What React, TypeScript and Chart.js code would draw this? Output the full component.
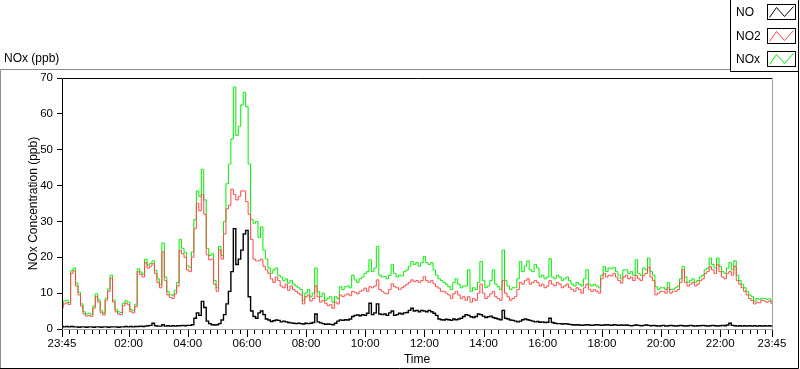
import React, { useEffect, useRef } from 'react';
import { Chart, registerables } from 'chart.js';

Chart.register(...registerables);

// ---- data ----
const START_MINUTE = 23 * 60 + 45; // 23:45
const STEP_MIN = 5; // sampling interval (minutes)
const SPAN_MIN = 1440; // 24 h shown
const MINOR_TICK_MIN = 15;
const MAJOR_TICK_MIN = 120;
const Y_MIN = 0;
const Y_MAX = 70;
const Y_STEP = 10;

const SERIES_NAMES = ['NO', 'NO2', 'NOx'];
const TITLE = 'NOx (ppb)';
const X_TITLE = 'Time';
const Y_TITLE = 'NOx Concentration (ppb)';

const NO = [
  0.7, 0.6, 0.7, 0.6, 0.7, 0.6, 0.6, 0.5, 0.6, 0.6,
  0.5, 0.6, 0.6, 0.5, 0.6, 0.6, 0.5, 0.6, 0.6, 0.5,
  0.6, 0.6, 0.6, 0.5, 0.6, 0.6, 0.7, 0.6, 0.7, 0.6,
  0.7, 0.7, 0.8, 0.7, 0.8, 0.9, 1.0, 1.6, 0.9, 0.8,
  0.8, 1.2, 0.8, 0.9, 0.8, 0.9, 0.8, 0.9, 0.9, 1.0,
  0.9, 1.0, 1.0, 1.2, 3.0, 4.5, 3.8, 7.7, 6.0, 2.2,
  1.5, 1.2, 1.1, 1.2, 1.5, 2.5, 4.0, 7.0, 10.5, 16.0,
  28.0, 18.0, 19.5, 22.0, 26.5, 27.5, 9.0, 5.0, 3.5, 3.0,
  4.5, 5.0, 4.0, 2.8, 2.5, 2.1, 2.3, 2.5, 2.4, 2.0,
  2.2, 2.0, 1.8, 1.7, 1.6, 1.5, 1.6, 1.5, 1.4, 1.6,
  1.5, 1.6, 1.8, 4.2, 2.0, 1.7, 1.5, 1.3, 1.4, 1.3,
  1.2, 1.6, 2.2, 2.5, 2.4, 2.6, 2.5, 2.8, 3.5, 3.8,
  3.9, 3.7, 4.0, 3.8, 4.4, 7.2, 4.0, 4.5, 7.0, 4.2,
  4.0, 4.2, 3.8, 4.5, 5.0, 3.8, 4.0, 4.4, 4.2, 4.5,
  4.6, 5.2, 5.8, 5.0, 5.2, 4.8, 5.2, 5.0, 4.8, 5.2,
  4.8, 4.4, 3.8, 2.8, 2.6, 2.5, 2.7, 2.6, 2.4, 2.8,
  2.6, 2.8, 3.0, 3.5, 4.0, 3.8, 3.4, 3.2, 3.5, 4.2,
  4.0, 3.6, 3.2, 3.4, 3.6, 3.2, 3.0, 2.8, 2.6, 5.2,
  3.0, 2.8, 2.5, 2.4, 2.2, 2.0, 2.2, 2.6, 2.8, 2.6,
  2.4, 2.2, 2.0, 2.1, 1.9, 2.0, 1.8, 1.9, 3.0, 1.8,
  1.6, 1.5, 1.5, 1.4, 1.5, 1.4, 1.3, 1.2, 1.1, 1.2,
  1.1, 1.0, 1.1, 1.2, 1.1, 1.0, 1.1, 1.2, 1.1, 1.0,
  1.1, 1.2, 1.1, 1.0, 1.2, 1.1, 1.0, 1.1, 1.0, 1.1,
  1.0, 0.9, 1.0, 1.1, 1.0, 0.9, 1.0, 1.1, 1.0, 0.9,
  1.0, 0.9, 0.8, 0.9, 1.0, 0.8, 0.9, 1.0, 0.9, 0.8,
  0.9, 1.0, 0.9, 0.8, 0.9, 1.0, 0.9, 0.8, 0.9, 0.9,
  1.0, 0.9, 0.8, 0.9, 1.0, 0.9, 0.8, 0.9, 1.0, 0.9,
  1.1, 1.6, 1.0, 0.9, 0.8, 0.9, 0.8, 0.9, 0.8, 0.9,
  0.8, 0.9, 0.8, 0.9, 0.8, 0.9, 0.8, 0.9, 0.8,
];

const NO2 = [
  5.8, 7.0, 7.3, 6.8, 15.5, 16.2, 12.0, 9.5, 6.4, 4.2,
  3.6, 3.8, 3.5, 5.8, 9.0, 7.5, 4.5, 3.9, 8.0, 10.5,
  14.2, 7.5, 4.8, 4.2, 4.0, 6.5, 7.2, 6.8, 4.8, 4.5,
  6.2, 16.0, 15.2, 14.5, 18.5, 17.0, 17.5, 18.2, 15.5, 13.0,
  11.5, 21.5, 13.5, 9.5, 8.8, 8.5, 9.8, 12.0, 22.0, 21.0,
  20.0, 16.5, 16.0, 20.0, 28.0, 35.0, 33.0, 37.5, 32.0, 20.7,
  19.3, 19.5, 12.5, 10.5, 22.0, 19.5, 26.5, 33.5, 34.5, 39.0,
  37.5, 36.0, 37.0, 38.5, 38.5, 35.5, 32.0, 25.0, 19.5, 19.0,
  19.0, 19.5, 17.5, 16.5, 15.5, 14.0, 13.0, 14.5, 13.5, 12.0,
  11.5, 12.5, 10.8, 12.0, 11.0, 10.5, 10.0, 9.5, 7.0, 9.0,
  9.5, 7.8, 8.5, 12.0, 9.0, 7.5, 8.0, 7.2, 6.5, 6.8,
  5.8, 7.5, 7.0, 9.5, 9.0, 9.5, 9.8, 9.3, 10.5, 10.2,
  9.8, 10.5, 10.8, 11.4, 10.5, 11.8, 11.5, 12.0, 13.7, 11.0,
  10.5, 10.0, 9.8, 11.0, 12.6, 11.8, 11.5, 11.0, 11.5, 12.0,
  12.5, 13.0, 13.7, 13.2, 13.5, 13.0, 13.5, 14.6, 13.5, 13.0,
  13.5, 12.6, 11.8, 11.4, 10.5, 10.5, 10.0, 9.5, 8.5, 9.8,
  10.5, 9.5, 8.5, 9.0, 8.0, 9.0, 7.5, 8.5, 8.0, 10.0,
  12.5, 10.0, 8.5, 9.0, 9.8, 10.5, 9.0, 8.5, 8.0, 13.5,
  10.0, 9.0, 8.0, 8.5, 9.0, 11.0, 13.0, 12.5, 13.5, 14.0,
  12.5, 13.0, 13.5, 13.0, 12.0, 12.5, 11.5, 12.0, 13.5, 12.5,
  12.0, 13.0, 12.5, 11.5, 12.0, 12.5, 11.5, 11.0, 10.5, 11.5,
  11.0, 10.0, 11.5, 12.5, 11.0, 10.5, 11.0, 10.5, 10.0, 14.0,
  15.5, 14.5, 15.0, 14.8, 15.5, 14.5, 13.5, 12.8, 14.5, 15.0,
  14.0, 14.5, 13.5, 15.0, 14.0, 13.5, 15.0, 15.5, 17.2, 14.5,
  13.5, 9.5, 10.0, 10.5, 10.5, 10.0, 11.5, 10.0, 10.5, 10.5,
  11.0, 13.0, 16.5, 13.0, 12.0, 12.5, 13.0, 12.0, 12.5, 13.5,
  14.0, 15.5, 16.0, 17.4, 16.5, 15.5, 17.9, 16.0, 14.5, 14.0,
  15.5, 16.0, 15.0, 17.5, 13.5, 12.5, 11.5, 10.5, 9.5, 8.5,
  7.9, 7.0, 7.5, 7.3, 8.0, 7.8, 7.5, 7.8, 7.2,
];

const NOX = [
  6.7, 7.8, 8.0, 7.4, 16.3, 17.0, 12.8, 10.2, 7.0, 4.8,
  4.2, 4.4, 4.1, 6.4, 9.8, 8.1, 5.1, 4.5, 8.6, 11.2,
  15.0, 8.1, 5.4, 4.8, 4.6, 7.2, 7.9, 7.5, 5.4, 5.1,
  6.9, 16.8, 15.9, 15.3, 19.5, 17.8, 18.3, 19.0, 16.3, 14.0,
  12.3, 24.0, 14.5, 10.4, 9.6, 9.4, 10.8, 13.0, 25.0, 22.5,
  21.3, 17.6, 17.2, 21.5, 30.5, 38.5, 37.0, 44.5, 36.0, 22.5,
  20.5, 21.0, 13.5, 11.5, 23.0, 20.5, 30.0, 40.5, 46.0, 53.0,
  67.5, 54.0, 56.5, 62.5, 66.0, 62.0, 46.0, 30.5, 29.5, 30.0,
  25.5, 28.5, 22.0, 19.5, 17.0, 15.5, 16.5, 17.0, 15.0, 14.5,
  13.5, 14.0, 12.8, 13.5, 12.5, 12.0, 11.5, 11.0, 8.0, 10.0,
  11.0, 9.0, 10.0, 17.0, 10.5, 9.0, 10.0, 8.0, 8.5, 9.0,
  7.5, 9.0, 8.5, 11.8, 11.0, 11.8, 12.0, 11.5, 15.0, 13.7,
  13.0, 14.0, 14.5, 15.5, 16.0, 19.3, 16.0, 17.0, 23.0, 15.0,
  14.5, 14.6, 14.0, 15.0, 18.0, 15.5, 14.5, 15.0, 14.8, 16.0,
  16.5, 17.5, 18.8, 18.0, 18.5, 17.5, 18.5, 20.2, 18.5, 18.0,
  18.5, 16.5, 15.0, 14.0, 13.5, 13.0, 12.5, 11.8, 11.0, 13.0,
  14.0, 12.5, 11.5, 12.0, 12.0, 16.5, 10.5, 11.5, 11.0, 13.0,
  18.8, 13.5, 11.5, 12.0, 13.5, 16.5, 12.5, 11.8, 11.0, 22.0,
  13.5, 12.0, 11.0, 11.5, 11.5, 14.0, 18.8, 16.0, 17.5, 19.0,
  16.5, 16.0, 18.0, 17.0, 14.5, 15.0, 14.0, 14.5, 19.6, 14.5,
  14.0, 15.0, 14.5, 13.5, 14.0, 14.5, 13.5, 12.5, 12.0, 13.0,
  12.5, 12.0, 14.0, 16.5, 12.5, 12.0, 12.5, 12.0, 11.5, 15.0,
  17.4, 16.0, 17.0, 16.8, 17.2, 16.0, 15.0, 14.0, 16.5, 16.5,
  15.5, 16.0, 15.0, 19.3, 15.5, 15.0, 17.0, 16.5, 19.8, 16.0,
  15.0, 11.8, 11.0, 11.5, 11.5, 11.0, 13.0, 11.0, 11.0, 11.5,
  12.0, 14.0, 17.4, 14.5, 13.0, 13.5, 14.0, 13.0, 13.5, 14.5,
  15.0, 16.5, 17.0, 19.8, 18.0, 17.0, 19.8, 17.5, 16.0, 15.5,
  17.0, 18.5, 16.5, 19.0, 15.0, 13.5, 12.5, 11.5, 10.5, 9.5,
  9.0, 7.8, 8.5, 8.2, 8.6, 8.5, 8.3, 8.4, 7.8,
];

const COLORS = { NO: '#000000', NO2: '#ff4646', NOx: '#00ee00' };
const FONT = '"Liberation Sans", Arial, sans-serif';

function fmtTime(offsetMin: number): string {
  const m = (START_MINUTE + offsetMin) % 1440;
  const h = Math.floor(m / 60);
  const mm = m % 60;
  return `${String(h).padStart(2, '0')}:${String(mm).padStart(2, '0')}`;
}

function toPoints(arr: number[]) {
  return arr.map((v, i) => ({ x: i * STEP_MIN, y: v }));
}

function isEnd(v: number): boolean {
  return v === 0 || v === SPAN_MIN;
}

// labelled hour ticks, skipping any that would crowd the end labels
function isMajor(v: number): boolean {
  if (isEnd(v)) return true;
  if (v < 60 || v > SPAN_MIN - 60) return false;
  return (START_MINUTE + v) % MAJOR_TICK_MIN === 0;
}

const framePlugin = {
  id: 'labviewFrame',
  afterDraw(chart: any) {
    const ctx = chart.ctx as CanvasRenderingContext2D;
    const { left, right, top, bottom } = chart.chartArea;
    const xs = chart.scales.x;
    const W = chart.width;
    const H = chart.height;
    ctx.save();
    ctx.lineWidth = 1;

    // x tick marks (major / minor)
    ctx.strokeStyle = '#000';
    xs.ticks.forEach((t: any) => {
      const px = Math.round(xs.getPixelForValue(t.value)) + 0.5;
      const len = isMajor(t.value) ? 8 : 5;
      ctx.beginPath();
      ctx.moveTo(px, bottom + 1);
      ctx.lineTo(px, bottom + len);
      ctx.stroke();
    });

    // plot frame
    const L = Math.round(left) + 0.5;
    const R = Math.round(right) + 0.5;
    const T = Math.round(top) + 0.5;
    const B = Math.round(bottom) + 0.5;
    ctx.strokeStyle = '#000';
    ctx.beginPath();
    ctx.moveTo(L, B);
    ctx.lineTo(L, T);
    ctx.lineTo(R, T);
    ctx.stroke();
    ctx.strokeStyle = '#a0a0a0';
    ctx.beginPath();
    ctx.moveTo(L + 1, B);
    ctx.lineTo(R, B);
    ctx.lineTo(R, T + 1);
    ctx.stroke();

    // outer panel frame
    ctx.strokeStyle = '#8c8c8c';
    ctx.beginPath();
    ctx.moveTo(0.5, H - 1);
    ctx.lineTo(0.5, 69.5);
    ctx.lineTo(730, 69.5);
    ctx.stroke();
    ctx.strokeStyle = '#000';
    ctx.beginPath();
    ctx.moveTo(0, H - 0.5);
    ctx.lineTo(W - 1.5, H - 0.5);
    ctx.lineTo(W - 1.5, 71);
    ctx.stroke();

    // legend box
    ctx.beginPath();
    ctx.moveTo(730.5, 0);
    ctx.lineTo(730.5, 71.5);
    ctx.lineTo(W - 1, 71.5);
    ctx.moveTo(W - 1.5, 0);
    ctx.lineTo(W - 1.5, 72);
    ctx.stroke();

    // title
    ctx.fillStyle = '#000';
    ctx.font = `12px ${FONT}`;
    ctx.textAlign = 'left';
    ctx.textBaseline = 'middle';
    ctx.fillText(TITLE, 4, 59);

    // legend entries
    const rows = [13, 37, 60];
    const cols = [COLORS.NO, COLORS.NO2, COLORS.NOx];
    SERIES_NAMES.forEach((name, k) => {
      const cy = rows[k];
      ctx.fillStyle = '#000';
      ctx.fillText(name, 736, cy);
      const bx = 767.5;
      const by = cy - 8.5;
      ctx.strokeStyle = '#000';
      ctx.lineWidth = 1;
      ctx.strokeRect(bx, by, 28, 15);
      ctx.strokeStyle = cols[k];
      ctx.beginPath();
      ctx.moveTo(bx + 2, by + 13);
      ctx.lineTo(bx + 9, by + 3);
      ctx.lineTo(bx + 17, by + 12);
      ctx.lineTo(bx + 26, by + 2);
      ctx.stroke();
    });

    ctx.restore();
  },
};

export default function App() {
  const canvasRef = useRef<HTMLCanvasElement | null>(null);

  useEffect(() => {
    document.body.style.margin = '0';
    document.body.style.background = '#ffffff';
    const canvas = canvasRef.current;
    if (!canvas) return;

    const chart = new Chart(canvas, {
      type: 'line',
      data: {
        datasets: [
          {
            label: SERIES_NAMES[0],
            data: toPoints(NO),
            borderColor: COLORS.NO,
            borderWidth: 1.4,
            pointRadius: 0,
            tension: 0,
            stepped: 'middle',
          },
          {
            label: SERIES_NAMES[1],
            data: toPoints(NO2),
            borderColor: COLORS.NO2,
            borderWidth: 1,
            pointRadius: 0,
            tension: 0,
            stepped: 'middle',
          },
          {
            label: SERIES_NAMES[2],
            data: toPoints(NOX),
            borderColor: COLORS.NOx,
            borderWidth: 1,
            pointRadius: 0,
            tension: 0,
            stepped: 'middle',
          },
        ],
      },
      options: {
        animation: false,
        responsive: false,
        maintainAspectRatio: false,
        devicePixelRatio: 1,
        layout: { padding: { left: 0, top: 78, right: 28, bottom: 0 } },
        plugins: {
          legend: { display: false },
          tooltip: { enabled: false },
          title: { display: false },
        },
        scales: {
          x: {
            type: 'linear',
            min: 0,
            max: SPAN_MIN,
            afterBuildTicks: (scale: any) => {
              const ticks = [];
              for (let v = 0; v <= SPAN_MIN; v += MINOR_TICK_MIN) ticks.push({ value: v });
              scale.ticks = ticks;
            },
            afterFit: (scale: any) => {
              scale.height = 40;
            },
            ticks: {
              autoSkip: false,
              maxRotation: 0,
              minRotation: 0,
              padding: 8,
              color: '#000',
              font: { family: FONT, size: 11.5 },
              callback: (value: any) => {
                const v = Number(value);
                return isMajor(v) ? fmtTime(v) : '';
              },
            },
            grid: { display: true, drawOnChartArea: false, drawTicks: false },
            border: { display: false },
            title: {
              display: true,
              text: X_TITLE,
              color: '#000',
              font: { family: FONT, size: 12 },
              padding: { top: 0, bottom: 2 },
            },
          },
          y: {
            type: 'linear',
            min: Y_MIN,
            max: Y_MAX,
            afterFit: (scale: any) => {
              scale.width = 62;
            },
            ticks: {
              stepSize: Y_STEP,
              padding: 4,
              color: '#000',
              font: { family: FONT, size: 11.5 },
            },
            grid: {
              display: true,
              drawOnChartArea: false,
              drawTicks: true,
              tickLength: 5,
              tickColor: '#000',
              tickWidth: 1,
            },
            border: { display: false },
            title: {
              display: true,
              text: Y_TITLE,
              color: '#000',
              font: { family: FONT, size: 12 },
              padding: { top: 26, bottom: 0 },
            },
          },
        },
      },
      plugins: [framePlugin],
    } as any);

    return () => {
      chart.destroy();
    };
  }, []);

  return (
    <div style={{ position: 'relative', width: 800, height: 369, background: '#fff' }}>
      <canvas ref={canvasRef} width={800} height={369} style={{ display: 'block', width: 800, height: 369 }} />
    </div>
  );
}
